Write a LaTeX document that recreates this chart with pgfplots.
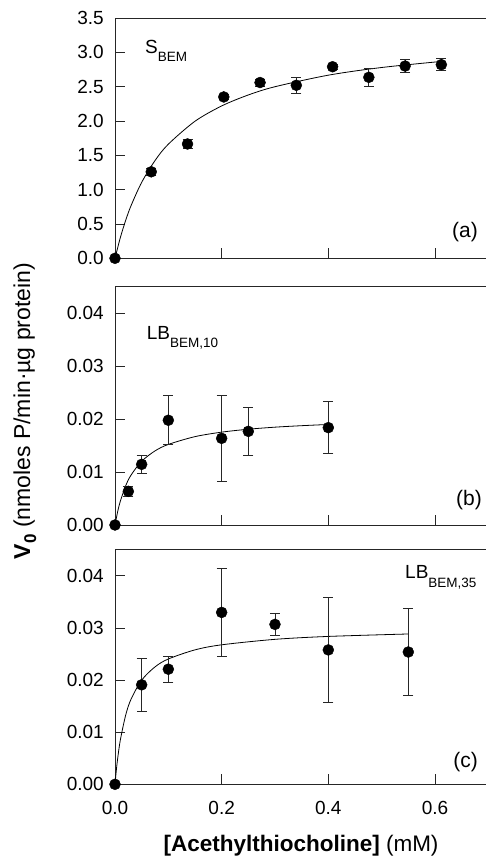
\documentclass[border=0pt]{standalone}
\usepackage{fontspec}
\setmainfont{Liberation Sans}
\usepackage{pgfplots}
\usepackage{pgfplotstable}
\pgfplotsset{compat=1.18}

% measured points: x, v0, error
\pgfplotstableread{
x      y        e
0      0        0
0.068  1.26     0.05
0.136  1.665    0.06
0.204  2.35     0.03
0.272  2.56     0.05
0.340  2.52     0.12
0.408  2.79     0.04
0.476  2.636    0.13
0.544  2.80     0.09
0.612  2.82     0.09
}\dataA
\pgfplotstableread{
x      y        e
0      0        0
0.025  0.00636  0.0010
0.05   0.01146  0.0017
0.10   0.0198   0.0046
0.20   0.01638  0.0081
0.25   0.0177   0.0045
0.40   0.0184   0.0049
}\dataB
\pgfplotstableread{
x      y        e
0      0        0
0.05   0.0191   0.0051
0.10   0.0221   0.0025
0.20   0.0330   0.0084
0.30   0.0307   0.0022
0.40   0.0258   0.0100
0.55   0.0254   0.0083
}\dataC

\newcommand{\tickfont}{\fontsize{19}{22}\selectfont}
\newcommand{\subfont}{\fontsize{13.5}{14}\selectfont}
\newcommand{\panfont}{\fontsize{21}{23}\selectfont}

\pgfplotsset{
  kin/.style={
    scale only axis, width=373.3pt,
    xmin=0, xmax=0.7, ymin=0, clip=false,
    axis line style={black!85, line width=0.9pt},
    tick style={black!85, line width=0.9pt},
    tick align=inside, major tick length=10pt, tick pos=left,
    xtick={0.2,0.4,0.6}, xticklabels={},
    tick label style={font=\tickfont, /pgf/number format/assume math mode=true},
    yticklabel style={inner sep=0pt, anchor=east, xshift=-11pt},
    xticklabel style={inner sep=0pt, anchor=north, yshift=-16.5pt},
    scaled ticks=false,
  },
  pts/.style={only marks, mark=*, mark size=5.5pt, mark options={fill=black, draw=black},
    error bars/.cd, y dir=both, y explicit,
    error bar style={line width=0.8pt, black!85},
    error mark options={rotate=90, mark size=5pt, line width=0.8pt, black!85}},
  fit/.style={smooth, black, line width=0.8pt, mark=none},
}

\begin{document}
\begin{tikzpicture}
\useasboundingbox (0,0) rectangle (485pt,857pt);

% (a)
\begin{axis}[kin, at={(115pt,598.7pt)}, anchor=south west, height=240.3pt,
  ymax=3.5, ytick={0,0.5,...,3.5},
  yticklabel style={/pgf/number format/.cd, fixed, fixed zerofill, precision=1}]
\addplot[fit] coordinates {(0,0) (0.01,0.301) (0.02,0.552) (0.03,0.765) (0.05,1.106) (0.075,1.423) (0.1,1.662) (0.15,1.996) (0.2,2.219) (0.25,2.379) (0.3,2.499) (0.4,2.667) (0.5,2.779) (0.613,2.868)};
\addplot[pts] table[x=x, y=y, y error=e] {\dataA};
\end{axis}

% (b)
\begin{axis}[kin, at={(115pt,332pt)}, anchor=south west, height=238.1pt,
  ymax=0.045, ytick={0,0.01,0.02,0.03,0.04},
  yticklabel style={/pgf/number format/.cd, fixed, fixed zerofill, precision=2}]
\addplot[fit] coordinates {(0,0) (0.005,0.00253) (0.01,0.00451) (0.02,0.00741) (0.03,0.00942) (0.05,0.01205) (0.075,0.0140) (0.1,0.01523) (0.15,0.0167) (0.2,0.01755) (0.25,0.0181) (0.3,0.01849) (0.35,0.01877) (0.4,0.019)};
\addplot[pts] table[x=x, y=y, y error=e] {\dataB};
\end{axis}

% (c)
\begin{axis}[kin, at={(115pt,72.7pt)}, anchor=south west, height=234.4pt,
  ymax=0.045, ytick={0,0.01,0.02,0.03,0.04},
  xtick={0,0.2,0.4,0.6}, xticklabels={0.0,0.2,0.4,0.6},
  yticklabel style={/pgf/number format/.cd, fixed, fixed zerofill, precision=2}]
\addplot[fit] coordinates {(0,0) (0.0025,0.0027) (0.005,0.00495) (0.01,0.0085) (0.02,0.01327) (0.03,0.01632) (0.05,0.0200) (0.075,0.02254) (0.1,0.02406) (0.15,0.02581) (0.2,0.02678) (0.3,0.02783) (0.4,0.02839) (0.55,0.02886)};
\addplot[pts] table[x=x, y=y, y error=e] {\dataC};
\end{axis}

% panel texts
\node[anchor=base west, inner sep=0pt, font=\tickfont] at (145pt,803.7pt) {S\raisebox{-8.3pt}{\subfont BEM}};
\node[anchor=base west, inner sep=0pt, font=\tickfont] at (146.7pt,517.7pt) {LB\raisebox{-8pt}{\subfont BEM,10}};
\node[anchor=base west, inner sep=0pt, font=\tickfont] at (405pt,278pt) {LB\raisebox{-9pt}{\subfont BEM,35}};
\node[anchor=east, inner sep=0pt, font=\panfont] at (478pt,625pt) {(a)};
\node[anchor=east, inner sep=0pt, font=\panfont] at (482pt,357pt) {(b)};
\node[anchor=east, inner sep=0pt, font=\panfont] at (478pt,95pt) {(c)};

% axis labels
\node[anchor=base, inner sep=0pt, font=\fontsize{22.5}{24}\selectfont] at (301pt,5.3pt) {{\bfseries [Acethylthiocholine]} (mM)};
\node[rotate=90, anchor=base, inner sep=0pt, font=\fontsize{23}{25}\selectfont] at (30pt,446pt) {{\bfseries V\raisebox{-6pt}{\fontsize{17}{17}\selectfont 0}} (nmoles P/min·µg protein)};
\end{tikzpicture}
\end{document}
